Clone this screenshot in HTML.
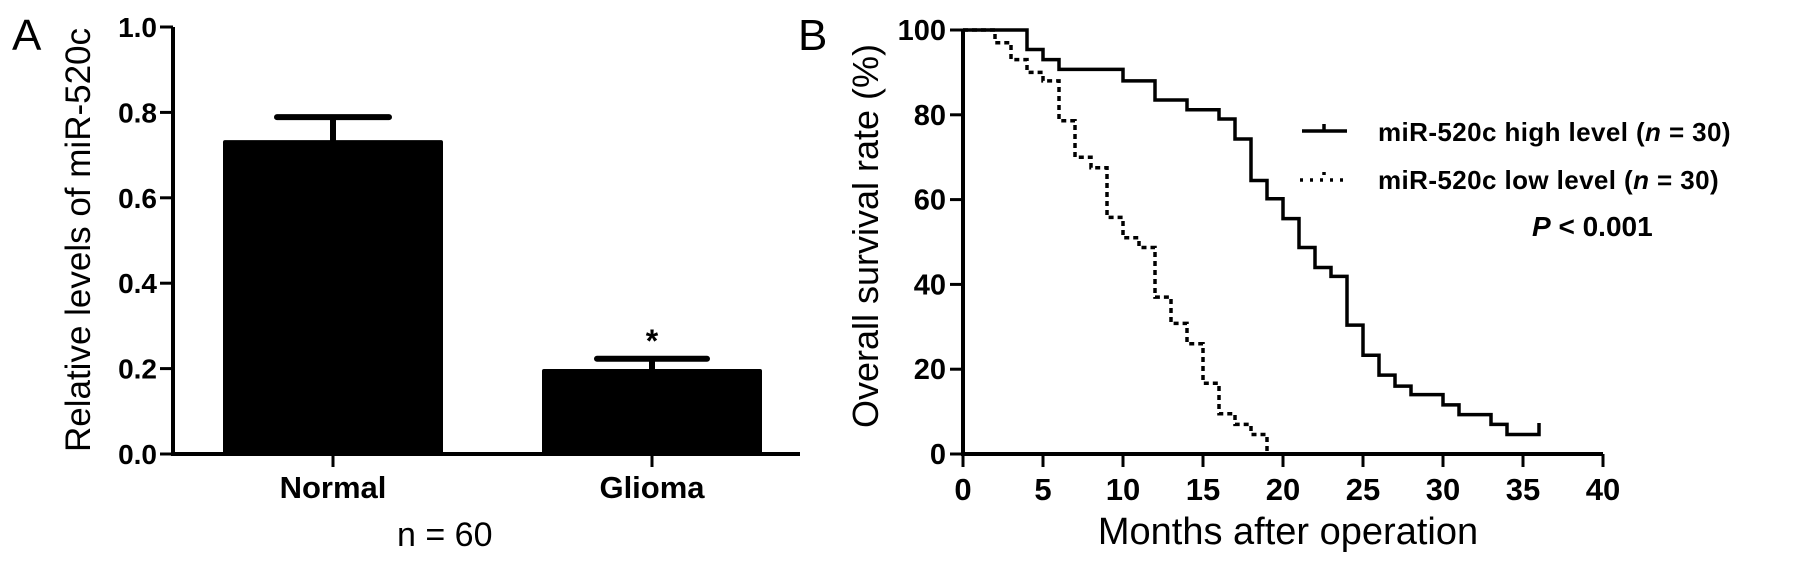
<!DOCTYPE html>
<html><head><meta charset="utf-8"><style>
body{margin:0;background:#fff}
svg{display:block;font-family:"Liberation Sans",Arial,sans-serif}
</style></head><body>
<svg id="fig" width="1795" height="572" viewBox="0 0 1795 572" xmlns="http://www.w3.org/2000/svg">
<g id="pa"></g>
<g id="pb"></g>
</svg>
<script>
// Panel A data
const barCategories = ["Normal", "Glioma"];
const barValues = [0.735, 0.199];
const barErrors = [0.054, 0.024];
const aTicks = ["0.0","0.2","0.4","0.6","0.8","1.0"];
// Panel B data
const highTimes = [0,4,5,6,10,12,14,16,17,18,19,20,21,22,23,24,25,26,27,28,30,31,33,34,36];
const highSurv  = [100,95.4,93,90.7,88,83.5,81.2,79,74.3,64.5,60.2,55.5,48.7,44,41.9,30.4,23.3,18.6,16,14,11.6,9.3,7,4.6,4.6];
const lowTimes = [0,2,3,4,5,6,7,8,9,10,11,12,13,14,15,16,17,18,19];
const lowSurv  = [100,97,93,90,88,78.6,70,67.5,55.8,51,48.7,37,30.8,26,16.7,9.5,7,4.6,0];
const bXTicks = [0,5,10,15,20,25,30,35,40];
const bYTicks = [0,20,40,60,80,100];

const NS="http://www.w3.org/2000/svg";
function mk(parent,tag,attrs,text){const e=document.createElementNS(NS,tag);for(const k in attrs)e.setAttribute(k,attrs[k]);if(text!==undefined)e.textContent=text;parent.appendChild(e);return e;}

// ---------- Panel A ----------
const pa=document.getElementById('pa');
const ay=v=>454-v*427;
const ax0=173, ax1=600;
let t=mk(pa,'text',{x:12,y:50,'font-size':44},'A');


t=mk(pa,'text',{x:0,y:0,'font-size':35,'text-anchor':'middle',transform:'translate(90,240) rotate(-90)'},'Relative levels of miR-520c');


let l=mk(pa,'path',{d:`M${ax0} ${ay(1)}V454H${ax1+200}`,stroke:'#000','stroke-width':4,fill:'none'});


aTicks.forEach(s=>{const v=parseFloat(s);
 const tk=mk(pa,'line',{x1:160,x2:ax0,y1:ay(v),y2:ay(v),stroke:'#000','stroke-width':3});
 
 
 const tl=mk(pa,'text',{x:157,y:ay(v)+10,'font-size':28,'font-weight':'bold','text-anchor':'end'},s);
 
 
});
const centers=[333,652], halfW=[110,110], capHalf=[56,55];
barCategories.forEach((c,i)=>{
 const b=mk(pa,'rect',{x:centers[i]-halfW[i],y:ay(barValues[i]),width:halfW[i]*2,height:454-ay(barValues[i]),fill:'#000',rx:2});
 
 
 const e=mk(pa,'path',{d:`M${centers[i]} ${ay(barValues[i])}V${ay(barValues[i]+barErrors[i])}M${centers[i]-capHalf[i]} ${ay(barValues[i]+barErrors[i])}H${centers[i]+capHalf[i]}`,stroke:'#000','stroke-width':6,'stroke-linecap':'round',fill:'none'});
 
 
 const tk=mk(pa,'line',{x1:centers[i],x2:centers[i],y1:454,y2:467,stroke:'#000','stroke-width':3});
 
 
 const tl=mk(pa,'text',{x:centers[i],y:498,'font-size':31,'font-weight':'bold','text-anchor':'middle'},c);
 
 
});
t=mk(pa,'text',{x:652,y:352,'font-size':32,'font-weight':'bold','text-anchor':'middle'},'*');


t=mk(pa,'text',{x:397,y:546,'font-size':34},'n = 60');



// ---------- Panel B ----------
const pb=document.getElementById('pb');
const bx=m=>963+m*16;
const by=v=>454-v*4.24;
t=mk(pb,'text',{x:798,y:50,'font-size':44},'B');


t=mk(pb,'text',{x:0,y:0,'font-size':36,'text-anchor':'middle',transform:'translate(878,236) rotate(-90)'},'Overall survival rate (%)');


t=mk(pb,'text',{x:1288,y:544,'font-size':38,'text-anchor':'middle'},'Months after operation');


l=mk(pb,'path',{d:`M${bx(0)} ${by(100)}V${by(0)}H${bx(40)}`,stroke:'#000','stroke-width':4,fill:'none'});


bYTicks.forEach(v=>{
 const tk=mk(pb,'line',{x1:950,x2:963,y1:by(v),y2:by(v),stroke:'#000','stroke-width':3});
 
 
 const tl=mk(pb,'text',{x:946,y:by(v)+10,'font-size':29,'font-weight':'bold','text-anchor':'end'},String(v));
 
 
});
bXTicks.forEach(m=>{
 const tk=mk(pb,'line',{x1:bx(m),x2:bx(m),y1:454,y2:467,stroke:'#000','stroke-width':3});
 
 
 const tl=mk(pb,'text',{x:bx(m),y:500,'font-size':31,'font-weight':'bold','text-anchor':'middle'},String(m));
 
 
});
function stepPath(ts,vs){let d=`M${bx(ts[0])} ${by(vs[0])}`;for(let i=1;i<ts.length;i++){d+=`H${bx(ts[i])}V${by(vs[i])}`;}return d;}
let p=mk(pb,'path',{d:stepPath(highTimes,highSurv)+`V${by(highSurv[highSurv.length-1]+2.7)}`,stroke:'#000','stroke-width':3.5,fill:'none'});


p=mk(pb,'path',{d:stepPath(lowTimes,lowSurv),stroke:'#000','stroke-width':3.5,fill:'none','stroke-dasharray':'5 4'});


// legend
let lg=mk(pb,'g',{});


let li=mk(lg,'path',{d:'M1302 131H1347M1324 124V131',stroke:'#000','stroke-width':3.5,fill:'none'});


li=mk(lg,'path',{d:'M1300 180H1344M1324 172V180',stroke:'#000','stroke-width':3.5,fill:'none','stroke-dasharray':'3 7'});


t=mk(lg,'text',{x:1378,y:141,'font-size':26,'font-weight':'bold','letter-spacing':'0.4'});
t.innerHTML='miR-520c high level (<tspan font-style="italic">n</tspan> = 30)';


t=mk(lg,'text',{x:1378,y:189,'font-size':26,'font-weight':'bold','letter-spacing':'0.4'});
t.innerHTML='miR-520c low level (<tspan font-style="italic">n</tspan> = 30)';


t=mk(lg,'text',{x:1532,y:236,'font-size':28,'font-weight':'bold'});
t.innerHTML='<tspan font-style="italic">P</tspan> &lt; 0.001';


</script>
</body></html>
